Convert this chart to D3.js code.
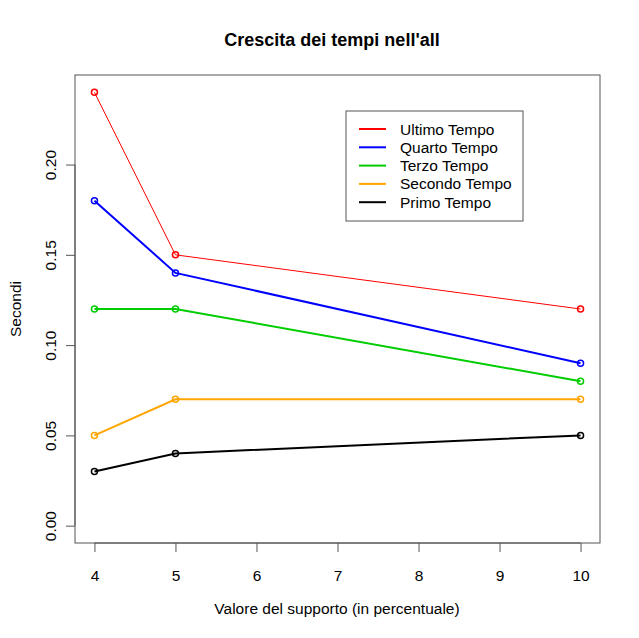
<!DOCTYPE html>
<html>
<head>
<meta charset="utf-8">
<script src="https://cdn.jsdelivr.net/npm/d3@7"></script>
<style>
  body { margin: 0; background: #fff; }
  text { font-family: "Liberation Sans", Arial, sans-serif; }
</style>
</head>
<body>
<div id="chart"></div>
<script>
// data
const supporto = [4, 5, 10];
const seriesNames = ["Ultimo Tempo", "Quarto Tempo", "Terzo Tempo", "Secondo Tempo", "Primo Tempo"];
const seriesColors = ["#ff0000", "#0000ff", "#00cd00", "#ffa500", "#000000"];
const ultimo = [0.24, 0.15, 0.12];
const quarto = [0.18, 0.14, 0.09];
const terzo = [0.12, 0.12, 0.08];
const secondo = [0.05, 0.07, 0.07];
const primo = [0.03, 0.04, 0.05];
const xTicks = [4, 5, 6, 7, 8, 9, 10];
const yTicks = [0, 0.05, 0.10, 0.15, 0.20];

const allSeries = [ultimo, quarto, terzo, secondo, primo];

const W = 639, H = 638;
const box = {left: 75, right: 600, top: 75, bottom: 543};
const fs = 15.5;

const svg = d3.select("#chart").append("svg")
    .attr("width", W).attr("height", H);

// R style 4% extension of the ranges
const xScale = d3.scaleLinear()
    .domain([4 - 0.24, 10 + 0.24])
    .range([box.left, box.right]);
const yScale = d3.scaleLinear()
    .domain([0 - 0.0096, 0.24 + 0.0096])
    .range([box.bottom, box.top]);

// frame
svg.append("rect")
    .attr("x", box.left).attr("y", box.top)
    .attr("width", box.right - box.left).attr("height", box.bottom - box.top)
    .attr("fill", "none").attr("stroke", "#555").attr("stroke-width", 1);

// axes
const xAxis = d3.axisBottom(xScale).tickValues(xTicks).tickSize(9).tickPadding(16)
    .tickFormat(d3.format("d"));
const gx = svg.append("g")
    .attr("transform", `translate(0,${box.bottom})`)
    .call(xAxis);
gx.select(".domain").attr("d", `M${xScale(4)},0H${xScale(10)}`).attr("stroke", "#555");
gx.selectAll(".tick line").attr("stroke", "#555");
gx.selectAll(".tick text").attr("font-size", fs).attr("fill", "#000")
    .attr("dy", 0).attr("y", 32).attr("dominant-baseline", "central");

const yAxis = d3.axisLeft(yScale).tickValues(yTicks).tickSize(9)
    .tickFormat(d3.format(".2f"));
const gy = svg.append("g")
    .attr("transform", `translate(${box.left},0)`)
    .call(yAxis);
gy.select(".domain").attr("d", `M0,${yScale(0)}V${yScale(0.2)}`).attr("stroke", "#555");
gy.selectAll(".tick line").attr("stroke", "#555");
gy.selectAll(".tick text")
    .attr("font-size", fs).attr("fill", "#000")
    .attr("x", 0).attr("y", 0).attr("dy", 0)
    .attr("text-anchor", "middle")
    .attr("dominant-baseline", "central")
    .attr("transform", "translate(-25,0) rotate(-90)");

// lines
const line = d3.line()
    .x((d, i) => xScale(supporto[i]))
    .y(d => yScale(d));

allSeries.forEach((vals, k) => {
    svg.append("path")
        .datum(vals)
        .attr("d", line)
        .attr("fill", "none")
        .attr("stroke", seriesColors[k])
        .attr("stroke-width", k === 0 ? 1 : 2);
    svg.selectAll(null)
        .data(vals)
        .enter().append("circle")
        .attr("cx", (d, i) => xScale(supporto[i]))
        .attr("cy", d => yScale(d))
        .attr("r", 3)
        .attr("fill", "none")
        .attr("stroke", seriesColors[k])
        .attr("stroke-width", 1.5);
});

// titles
svg.append("text")
    .attr("x", 332).attr("y", 46)
    .attr("text-anchor", "middle")
    .attr("font-size", 18).attr("font-weight", "bold")
    .text("Crescita dei tempi nell'all");

svg.append("text")
    .attr("x", 337).attr("y", 608)
    .attr("text-anchor", "middle")
    .attr("dominant-baseline", "central")
    .attr("font-size", fs)
    .text("Valore del supporto (in percentuale)");

svg.append("text")
    .attr("transform", `translate(15,${(box.top + box.bottom) / 2}) rotate(-90)`)
    .attr("text-anchor", "middle")
    .attr("dominant-baseline", "central")
    .attr("font-size", fs)
    .text("Secondi");

// legend
const legend = svg.append("g").attr("transform", "translate(346,111)");
legend.append("rect")
    .attr("width", 177).attr("height", 110)
    .attr("fill", "#fff").attr("stroke", "#555");
seriesNames.forEach((name, k) => {
    const y = 18 + k * 18.3;
    legend.append("line")
        .attr("x1", 13).attr("x2", 40).attr("y1", y).attr("y2", y)
        .attr("stroke", seriesColors[k]).attr("stroke-width", 2);
    legend.append("text")
        .attr("x", 54).attr("y", y)
        .attr("dominant-baseline", "central")
        .attr("font-size", fs)
        .text(name);
});
</script>
</body>
</html>
